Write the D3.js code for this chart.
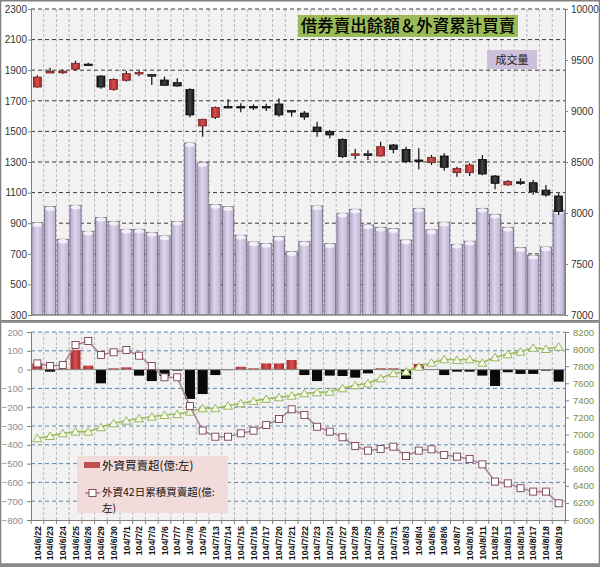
<!DOCTYPE html>
<html><head><meta charset="utf-8">
<script src="https://cdn.jsdelivr.net/npm/d3@7"></script>
<style>
body{margin:0;background:#fff}
svg{display:block}
text{font-family:"Liberation Sans","DejaVu Sans",sans-serif}
.cjk{font-family:"Noto Sans CJK TC","Noto Sans CJK SC",sans-serif}
</style>
</head><body>
<svg id="c" width="600" height="567"></svg>
<script>
const dates=["104/6/22","104/6/23","104/6/24","104/6/25","104/6/26","104/6/29","104/6/30","104/7/1","104/7/2","104/7/3","104/7/6","104/7/7","104/7/8","104/7/9","104/7/13","104/7/14","104/7/15","104/7/16","104/7/17","104/7/20","104/7/21","104/7/22","104/7/23","104/7/24","104/7/27","104/7/28","104/7/29","104/7/30","104/7/31","104/8/3","104/8/4","104/8/5","104/8/6","104/8/7","104/8/10","104/8/11","104/8/12","104/8/13","104/8/14","104/8/17","104/8/18","104/8/19"];
const volume=[903,1008,795,1017,847,938,912,860,860,840,816,912,1424,1295,1022,1008,821,777,768,812,714,779,1012,766,965,991,888,873,864,790,997,856,906,762,782,997,958,873,740,690,744,986];
const openP=[9235,9380,9386,9410,9460,9343,9212,9301,9372,9357,9304,9278,9212,8853,8938,9045,9045,9045,9045,9069,9005,8980,8843,8797,8722,8575,8580,8559,8667,8624,8520,8493,8559,8395,8395,8526,8363,8275,8306,8297,8225,8167];
const closeP=[9333,9388,9390,9468,9455,9235,9310,9366,9378,9354,9252,9245,8961,8919,9036,9041,9041,9041,9041,8961,9001,8941,8797,8765,8552,8580,8575,8650,8624,8503,8505,8546,8448,8438,8471,8382,8291,8311,8302,8209,8176,8013];
const highP=[9350,9424,9409,9493,9473,9353,9320,9392,9392,9360,9337,9320,9222,8925,9043,9115,9075,9065,9070,9124,9008,9000,8895,8814,8732,8627,8618,8699,8676,8650,8634,8569,8585,8454,8487,8569,8373,8324,8340,8324,8275,8193];
const lowP=[9228,9375,9363,9395,9441,9219,9199,9288,9340,9255,9245,9238,8938,8748,8921,9026,8987,9010,9000,8944,8944,8915,8748,8732,8539,8526,8520,8552,8585,8487,8428,8471,8415,8356,8362,8369,8232,8268,8275,8180,8160,7980];
const foreignNet=[33,-11,4,104,21,-73,7,12,-32,-61,-34,-3,-156,-130,-29,2,15,7,33,33,51,-29,-61,-32,-34,-43,-20,7,7,-50,30,3,-29,-11,-11,-32,-87,-14,-23,-23,-5,-64];
const foreign42=[33,19,24,131,152,78,92,104,74,19,-41,-41,-194,-324,-357,-357,-339,-325,-295,-263,-211,-241,-304,-330,-360,-406,-431,-422,-410,-460,-431,-424,-454,-463,-475,-504,-596,-605,-631,-649,-649,-711];
const lendingBal=[6956,6983,7014,7034,7034,7085,7132,7162,7190,7209,7229,7240,7267,7307,7307,7338,7366,7393,7417,7436,7455,7483,7494,7501,7541,7576,7599,7658,7717,7736,7794,7841,7881,7872,7881,7841,7904,7939,7970,8016,8001,8028];
const topLeftTicks=[300,500,700,900,1100,1300,1500,1700,1900,2100,2300];
const topRightTicks=[7000,7500,8000,8500,9000,9500,10000];
const botLeftTicks=[-800,-700,-600,-500,-400,-300,-200,-100,0,100,200];
const botRightTicks=[6000,6200,6400,6600,6800,7000,7200,7400,7600,7800,8000,8200];
const titleText="借券賣出餘額＆外資累計買賣";
const volLabel="成交量";
const legend1="外資買賣超(億:左)";
const legend2a="外資42日累積買賣超(億:";
const legend2b="左)";

const svg=d3.select('#c');
const X0=31,X1=565;
const x=d3.scaleBand().domain(dates).range([X0,X1]).paddingInner(0.12).paddingOuter(0.06);
const step=x.step();
const cx=d=>x(d)+x.bandwidth()/2;

const defs=svg.append('defs');
const g1=defs.append('linearGradient').attr('id','vol').attr('x1','0').attr('x2','1').attr('y1','0').attr('y2','0');
g1.append('stop').attr('offset','0').attr('stop-color','#b3a7cc');
g1.append('stop').attr('offset','0.45').attr('stop-color','#ddd5ea');
g1.append('stop').attr('offset','1').attr('stop-color','#bfb3d6');
const g2=defs.append('linearGradient').attr('id','redc').attr('x1','0').attr('x2','1');
g2.append('stop').attr('offset','0').attr('stop-color','#a32a2a');
g2.append('stop').attr('offset','0.5').attr('stop-color','#d65050');
g2.append('stop').attr('offset','1').attr('stop-color','#a32a2a');
const g3=defs.append('linearGradient').attr('id','blkc').attr('x1','0').attr('x2','1');
g3.append('stop').attr('offset','0').attr('stop-color','#111');
g3.append('stop').attr('offset','0.5').attr('stop-color','#444');
g3.append('stop').attr('offset','1').attr('stop-color','#111');

// frames
svg.append('rect').attr('x',0.5).attr('y',0.75).attr('width',599).attr('height',320).attr('fill','#fff').attr('stroke','#808080').attr('stroke-width',1.5);
svg.append('rect').attr('x',0.5).attr('y',322).attr('width',599).attr('height',242).attr('fill','#fff').attr('stroke','#808080').attr('stroke-width',1.5);
svg.append('rect').attr('x',0).attr('y',564).attr('width',600).attr('height',3).attr('fill','#8a8a8a');

// ===== TOP CHART =====
const yL=d3.scaleLinear().domain([300,2300]).range([315,9]);
const yR=d3.scaleLinear().domain([7000,10000]).range([315,9]);
const topG=svg.append('g');
topG.append('rect').attr('x',X0).attr('y',9).attr('width',X1-X0).attr('height',306).attr('fill','#f2f2f2');
topG.selectAll('.vg').data(d3.range(1,dates.length)).join('line')
 .attr('x1',k=>X0+step*k).attr('x2',k=>X0+step*k).attr('y1',9).attr('y2',315)
 .attr('stroke','#b8b8b8').attr('stroke-dasharray','3,2');
topG.selectAll('.hg').data(topLeftTicks.filter(t=>t>300)).join('line')
 .attr('x1',X0).attr('x2',X1).attr('y1',d=>yL(d)).attr('y2',d=>yL(d))
 .attr('stroke','#3a3a3a').attr('stroke-dasharray','4,3');

// volume bars
const vb=topG.append('g');
dates.forEach((d,i)=>{
  const bx=x(d),bw=x.bandwidth(),by=yL(volume[i]);
  vb.append('rect').attr('x',bx).attr('y',by).attr('width',bw).attr('height',315-by)
    .attr('fill','url(#vol)').attr('stroke','#6e6a78').attr('stroke-width',0.8);
  vb.append('ellipse').attr('cx',bx+bw/2).attr('cy',by+2).attr('rx',bw/2-1).attr('ry',2.2).attr('fill','#f3eff8');
});

// candles
const cg=topG.append('g');
dates.forEach((d,i)=>{
  const c=cx(d);
  cg.append('line').attr('x1',c).attr('x2',c).attr('y1',yR(highP[i])).attr('y2',yR(lowP[i])).attr('stroke','#111').attr('stroke-width',1.2);
  const up=closeP[i]>=openP[i];
  const t=yR(Math.max(openP[i],closeP[i])), b=yR(Math.min(openP[i],closeP[i]));
  const h=Math.max(b-t,1.6);
  cg.append('rect').attr('x',c-4).attr('y',t).attr('width',8).attr('height',h)
    .attr('fill',up?'url(#redc)':'url(#blkc)').attr('stroke',up?'#6a1a1a':'#000').attr('stroke-width',0.7);
});

// axes top
const axL=topG.append('g').attr('transform',`translate(${X0},0)`).call(d3.axisLeft(yL).tickValues(topLeftTicks).tickSize(3).tickFormat(d3.format('d')));
const axR=topG.append('g').attr('transform',`translate(${X1},0)`).call(d3.axisRight(yR).tickValues(topRightTicks).tickSize(3).tickFormat(d3.format('d')));
[axL,axR].forEach(a=>{a.selectAll('path,line').attr('stroke','#7f7f7f');a.selectAll('text').attr('fill','#333').attr('font-size',10);});
axL.selectAll('text').attr('x',-4);
axR.selectAll('text').attr('x',6);
topG.append('line').attr('x1',X0).attr('x2',X1).attr('y1',315).attr('y2',315).attr('stroke','#7f7f7f');

// title boxes
topG.append('rect').attr('x',298).attr('y',15).attr('width',220).attr('height',22).attr('fill','#9bbb59');
topG.append('text').attr('class','cjk').attr('x',408).attr('y',32).attr('text-anchor','middle').attr('font-size',16.5).attr('font-weight',500).attr('fill','#000').text(titleText);
topG.append('rect').attr('x',487).attr('y',50).attr('width',50).attr('height',19).attr('fill','#ccc0da');
topG.append('text').attr('class','cjk').attr('x',512).attr('y',64).attr('text-anchor','middle').attr('font-size',11).attr('fill','#222').text(volLabel);

// ===== BOTTOM CHART =====
const yL2=d3.scaleLinear().domain([-800,200]).range([520,332]);
const yR2=d3.scaleLinear().domain([6000,8200]).range([520,332]);
const bot=svg.append('g');
bot.append('rect').attr('x',X0).attr('y',332).attr('width',X1-X0).attr('height',188).attr('fill','#f2f2f2');
bot.selectAll('.vg').data(d3.range(1,dates.length)).join('line')
 .attr('x1',k=>X0+step*k).attr('x2',k=>X0+step*k).attr('y1',332).attr('y2',520)
 .attr('stroke','#b8b8b8').attr('stroke-dasharray','3,2');
bot.selectAll('.hg').data(botLeftTicks.filter(t=>t>-800)).join('line')
 .attr('x1',X0).attr('x2',X1).attr('y1',d=>yL2(d)).attr('y2',d=>yL2(d))
 .attr('stroke','#5f86a8').attr('stroke-dasharray','4,3');

// net bars
const nb=bot.append('g');
dates.forEach((d,i)=>{
  const v=foreignNet[i];
  const bw=x.bandwidth()*0.9, bx=x(d)+(x.bandwidth()-bw)/2;
  const y0=yL2(0), y1=yL2(v);
  nb.append('rect').attr('x',bx).attr('y',Math.min(y0,y1)).attr('width',bw).attr('height',Math.max(Math.abs(y1-y0),1))
    .attr('fill',v>=0?'url(#redc)':'#0a0a0a');
});
bot.append('line').attr('x1',X0).attr('x2',X1).attr('y1',yL2(0)).attr('y2',yL2(0)).attr('stroke','#8a8a8a');

// lending line (right axis)
const lineR=d3.line().x((v,i)=>cx(dates[i])).y(v=>yR2(v));
bot.append('path').attr('d',lineR(lendingBal)).attr('fill','none').attr('stroke','#9bbb59').attr('stroke-width',1.6);
bot.selectAll('.tri').data(lendingBal).join('path')
 .attr('d',(v,i)=>{const px=cx(dates[i]),py=yR2(v);return `M${px},${py-4}L${px+4.5},${py+3.5}L${px-4.5},${py+3.5}Z`;})
 .attr('fill','#f6f9ec').attr('stroke','#8db04c').attr('stroke-width',0.9);

// 42-day cumulative line (left axis)
const lineL=d3.line().x((v,i)=>cx(dates[i])).y(v=>yL2(v));
bot.append('path').attr('d',lineL(foreign42)).attr('fill','none').attr('stroke','#a5879a').attr('stroke-width',1.6);
bot.selectAll('.sq').data(foreign42).join('rect')
 .attr('x',(v,i)=>cx(dates[i])-3.5).attr('y',v=>yL2(v)-3.5).attr('width',7).attr('height',7)
 .attr('fill','#fff').attr('stroke','#7a3e50').attr('stroke-width',0.9);

// axes bottom
const axL2=bot.append('g').attr('transform',`translate(${X0},0)`).call(d3.axisLeft(yL2).tickValues(botLeftTicks).tickSize(4));
const axR2=bot.append('g').attr('transform',`translate(${X1},0)`).call(d3.axisRight(yR2).tickValues(botRightTicks).tickSize(4).tickFormat(d3.format('d')));
[axL2,axR2].forEach(a=>{a.selectAll('path,line').attr('stroke','#7f7f7f');a.selectAll('text').attr('font-size',9.5);});
axL2.selectAll('text').attr('fill','#8c8c8c').attr('x',-8);
axR2.selectAll('text').attr('fill','#7d8a4a').attr('x',8);
const axB=bot.append('g').attr('transform','translate(0,520)').call(d3.axisBottom(x).tickSize(0).tickFormat(''));
axB.select('path').attr('stroke','#7f7f7f');
bot.selectAll('.bt').data(d3.range(0,dates.length+1)).join('line')
 .attr('x1',k=>X0+step*k).attr('x2',k=>X0+step*k).attr('y1',520).attr('y2',524).attr('stroke','#7f7f7f');
bot.selectAll('.xl').data(dates).join('text')
 .attr('transform',d=>`translate(${cx(d)+3.2},526) rotate(-90)`)
 .attr('text-anchor','end').attr('font-size',8.8).attr('font-weight','bold').attr('fill','#111').text(d=>d);

// legend
const lg=bot.append('g');
lg.append('rect').attr('x',77).attr('y',456).attr('width',151).attr('height',57).attr('fill','#f2dcdb');
lg.append('rect').attr('x',84).attr('y',462).attr('width',16).attr('height',6).attr('fill','#c0504d');
lg.append('text').attr('class','cjk').attr('x',102).attr('y',470).attr('font-size',11.5).attr('fill','#111').text(legend1);
lg.append('line').attr('x1',85).attr('x2',100).attr('y1',493).attr('y2',493).attr('stroke','#a5879a').attr('stroke-width',1.6);
lg.append('rect').attr('x',89).attr('y',489.5).attr('width',7).attr('height',7).attr('fill','#fff').attr('stroke','#7a3e50').attr('stroke-width',0.9);
lg.append('text').attr('class','cjk').attr('x',102).attr('y',496).attr('font-size',10.5).attr('fill','#111').text(legend2a);
lg.append('text').attr('class','cjk').attr('x',102).attr('y',512).attr('font-size',10.5).attr('fill','#111').text(legend2b);
</script>
</body></html>
